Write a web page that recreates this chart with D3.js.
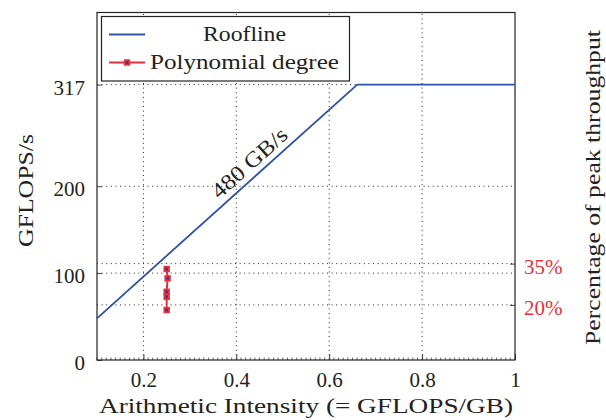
<!DOCTYPE html>
<html><head><meta charset="utf-8">
<script src="https://cdn.jsdelivr.net/npm/d3@7"></script>
<style>body{margin:0;background:#fff}text{font-family:"Liberation Serif",serif;fill:#222}</style>
</head><body><svg id="c" width="606" height="420"></svg>
<script>
const xTicks = [0.2, 0.4, 0.6, 0.8, 1];
const yTicks = [0, 100, 200, 317];
const percentTicks = [35, 20];
const peakGflops = 317;
const rooflineX = [0.1, 0.6604, 1];
const rooflineY = [48, 317, 317];
const polyX = [0.25, 0.252, 0.25, 0.25, 0.25];
const polyY = [104.7, 94, 78.6, 72.8, 57.5];
const seriesNames = ["Roofline", "Polynomial degree"];
const slopeLabel = "480 GB/s";

const blue = "#2f52a8", red = "#e8303a";
const svg = d3.select("#c");
const L = 97, R = 515, T = 12.5, B = 360;
const x = d3.scaleLinear().domain([0.1, 1]).range([L, R]);
const y = d3.scaleLinear().domain([0, 400]).range([B, T]);

// grid
const g = svg.append("g");
const dot = {stroke: "#222", "stroke-width": 1, "stroke-dasharray": "1,3.6"};
xTicks.filter(d => d < 1).forEach(d => {
  const l = g.append("line").attr("x1", x(d)).attr("x2", x(d)).attr("y1", B).attr("y2", T);
  Object.entries(dot).forEach(([k, v]) => l.attr(k, v));
});
yTicks.filter(d => d > 0).concat(percentTicks.map(p => peakGflops * p / 100)).forEach(d => {
  const l = g.append("line").attr("x1", L).attr("x2", R).attr("y1", y(d)).attr("y2", y(d));
  Object.entries(dot).forEach(([k, v]) => l.attr(k, v));
});

// axes
const ax = d3.axisBottom(x).tickValues(xTicks).tickSize(-6).tickPadding(12).tickFormat(d => d === 1 ? "1" : d3.format(".1f")(d));
const axG = svg.append("g").attr("transform", `translate(0,${B})`).call(ax);
const minor = d3.range(10, 101).map(d => d / 100);
svg.append("g").selectAll("line").data(minor).join("line")
  .attr("x1", d => x(d)).attr("x2", d => x(d)).attr("y1", B).attr("y2", B - 2.5)
  .attr("stroke", "#444").attr("stroke-width", 0.8);
const ay = d3.axisLeft(y).tickValues(yTicks).tickSize(-5).tickPadding(12);
const ayG = svg.append("g").attr("transform", `translate(${L},0)`).call(ay);
const ar = d3.axisRight(y).tickValues(percentTicks.map(p => peakGflops * p / 100)).tickSize(-5).tickPadding(9).tickFormat((d, i) => percentTicks[i] + "%");
const arG = svg.append("g").attr("transform", `translate(${R},0)`).call(ar);
[axG, ayG, arG].forEach(a => {
  a.attr("font-family", null);
  a.select(".domain").remove();
  a.selectAll("text").style("font-family", '"Liberation Serif",serif').style("font-size", "21px").style("fill", "#222");
  a.selectAll(".tick line").attr("stroke", "#444");
});
axG.selectAll("text").attr("dy", "0.71em");
ayG.selectAll("text").attr("dy", "0.45em");
arG.selectAll("text").style("fill", red).attr("dy", "0.45em");
svg.append("rect").attr("x", L).attr("y", T).attr("width", R - L).attr("height", B - T)
  .attr("fill", "none").attr("stroke", "#222").attr("stroke-width", 1.2);

// roofline
const line = d3.line().x(d => x(d[0])).y(d => y(d[1]));
svg.append("path").datum(rooflineX.map((v, i) => [v, rooflineY[i]]))
  .attr("d", line).attr("fill", "none").attr("stroke", blue).attr("stroke-width", 1.8);

// slope label
const lx = 0.448, ly = 480 * 0.448;
const ang = Math.atan2(y(rooflineY[0]) - y(rooflineY[1]), x(rooflineX[1]) - x(rooflineX[0])) * 180 / Math.PI;
svg.append("text").attr("transform", `translate(${x(lx)},${y(ly)}) rotate(${-ang})`)
  .attr("text-anchor", "middle").attr("dy", "-0.3em").style("font-size", "22px")
  .attr("textLength", 94).attr("lengthAdjust", "spacingAndGlyphs").text(slopeLabel);

// polynomial series
const pd = polyX.map((v, i) => [v, polyY[i]]);
svg.append("path").datum(pd).attr("d", line).attr("fill", "none").attr("stroke", red).attr("stroke-width", 2);
svg.append("g").selectAll("rect").data(pd).join("rect")
  .attr("x", d => x(d[0]) - 3.2).attr("y", d => y(d[1]) - 3.2).attr("width", 6.4).attr("height", 6.4).attr("fill", red);
svg.append("g").selectAll("rect").data(pd).join("rect")
  .attr("x", d => x(d[0]) - 1.3).attr("y", d => y(d[1]) - 1.3).attr("width", 2.6).attr("height", 2.6).attr("fill", "#2a3f9a");

// legend
svg.append("rect").attr("x", 101.5).attr("y", 16.5).attr("width", 248).attr("height", 64.5)
  .attr("fill", "#fff").attr("stroke", "#222").attr("stroke-width", 1.2);
svg.append("line").attr("x1", 109).attr("x2", 145).attr("y1", 34.5).attr("y2", 34.5).attr("stroke", blue).attr("stroke-width", 1.8);
svg.append("line").attr("x1", 109).attr("x2", 145).attr("y1", 62.5).attr("y2", 62.5).attr("stroke", red).attr("stroke-width", 2);
svg.append("rect").attr("x", 123.8).attr("y", 59.3).attr("width", 6.4).attr("height", 6.4).attr("fill", red);
svg.append("rect").attr("x", 125.7).attr("y", 61.2).attr("width", 2.6).attr("height", 2.6).attr("fill", "#2a3f9a");
svg.append("text").attr("x", 203).attr("y", 41).style("font-size", "21px")
  .attr("textLength", 83).attr("lengthAdjust", "spacingAndGlyphs").text(seriesNames[0]);
svg.append("text").attr("x", 150).attr("y", 69).style("font-size", "21px")
  .attr("textLength", 189).attr("lengthAdjust", "spacingAndGlyphs").text(seriesNames[1]);

// axis titles
svg.append("text").attr("x", 99).attr("y", 413).style("font-size", "21px")
  .attr("textLength", 414).attr("lengthAdjust", "spacingAndGlyphs").text("Arithmetic Intensity (= GFLOPS/GB)");
svg.append("text").attr("transform", `translate(33,247) rotate(-90)`).style("font-size", "21px")
  .attr("textLength", 113).attr("lengthAdjust", "spacingAndGlyphs").text("GFLOPS/s");
svg.append("text").attr("transform", `translate(600,345) rotate(-90)`).style("font-size", "21px")
  .attr("textLength", 315).attr("lengthAdjust", "spacingAndGlyphs").text("Percentage of peak throughput");
</script></body></html>
